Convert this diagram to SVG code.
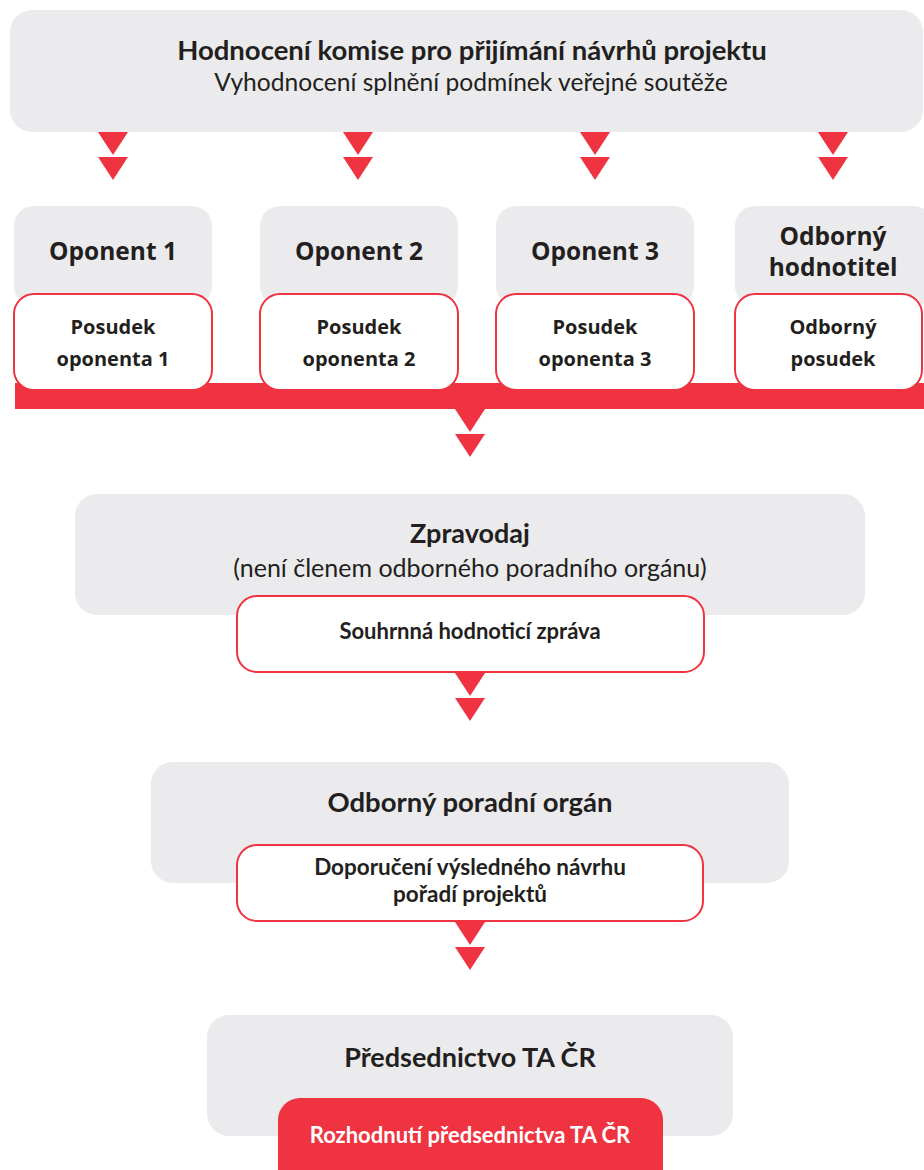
<svg xmlns="http://www.w3.org/2000/svg" width="924" height="1170" viewBox="0 0 924 1170">
<defs>
<style>
.g{fill:#ebebed}
.o{fill:#ffffff;stroke:#ef3340;stroke-width:2}
.r{fill:#ef3340}
.t{font-family:Lato,"Open Sans","Liberation Sans",sans-serif;fill:#231f20;text-anchor:middle}
.b{font-weight:bold}
.op{font-family:"Open Sans","Noto Sans","Liberation Sans",sans-serif;font-weight:bold;fill:#231f20;text-anchor:middle}
.w{fill:#ffffff}
</style>
<path id="tri" d="M-15,0 L15,0 L0,23 Z" fill="#ef3340"/>
<g id="dbl"><use href="#tri"/><use href="#tri" y="25"/></g>
</defs>
<rect width="924" height="1170" fill="#ffffff"/>

<g id="connectors">
<use href="#dbl" x="113" y="132"/>
<use href="#dbl" x="358" y="132"/>
<use href="#dbl" x="595" y="132"/>
<use href="#dbl" x="833" y="132"/>
<rect class="r" x="15" y="383" width="909" height="26"/>
<use href="#dbl" x="470" y="409"/>
<use href="#dbl" x="470" y="673"/>
<use href="#dbl" x="470" y="922"/>
</g>

<g id="komise">
<rect class="g" x="10" y="10" width="913" height="122" rx="22"/>
<text class="t b" x="472" y="60" font-size="27.5">Hodnocení komise pro přijímání návrhů projektu</text>
<text class="t" x="471" y="91" font-size="24.6">Vyhodnocení splnění podmínek veřejné soutěže</text>
</g>

<g id="oponent1">
<rect class="g" x="14" y="206" width="198" height="100" rx="20"/>
<text class="op" x="113" y="260" font-size="24.5">Oponent 1</text>
<rect class="o" x="14" y="294" width="198" height="96" rx="20"/>
<text class="op" x="113" y="334" font-size="20">Posudek</text>
<text class="op" x="113" y="366" font-size="20">oponenta 1</text>
</g>
<g id="oponent2">
<rect class="g" x="260" y="206" width="198" height="100" rx="20"/>
<text class="op" x="359" y="260" font-size="24.5">Oponent 2</text>
<rect class="o" x="260" y="294" width="198" height="96" rx="20"/>
<text class="op" x="359" y="334" font-size="20">Posudek</text>
<text class="op" x="359" y="366" font-size="20">oponenta 2</text>
</g>
<g id="oponent3">
<rect class="g" x="496" y="206" width="198" height="100" rx="20"/>
<text class="op" x="595" y="260" font-size="24.5">Oponent 3</text>
<rect class="o" x="496" y="294" width="198" height="96" rx="20"/>
<text class="op" x="595" y="334" font-size="20">Posudek</text>
<text class="op" x="595" y="366" font-size="20">oponenta 3</text>
</g>
<g id="hodnotitel">
<rect class="g" x="735" y="206" width="198" height="100" rx="20"/>
<text class="op" x="833" y="245" font-size="24.5">Odborný</text>
<text class="op" x="833" y="276" font-size="24.5">hodnotitel</text>
<rect class="o" x="735" y="294" width="187" height="96" rx="20"/>
<text class="op" x="833" y="334" font-size="20">Odborný</text>
<text class="op" x="833" y="366" font-size="20">posudek</text>
</g>

<g id="zpravodaj">
<rect class="g" x="75" y="494" width="790" height="121" rx="22"/>
<text class="t b" x="470" y="543" font-size="27">Zpravodaj</text>
<text class="t" x="470" y="577" font-size="25">(není členem odborného poradního orgánu)</text>
<rect class="o" x="237" y="596" width="467" height="76" rx="20"/>
<text class="t b" x="470" y="639" font-size="22">Souhrnná hodnoticí zpráva</text>
</g>

<g id="organ">
<rect class="g" x="151" y="762" width="638" height="121" rx="22"/>
<text class="t b" x="470" y="812" font-size="27.5">Odborný poradní orgán</text>
<rect class="o" x="237" y="845" width="466" height="76" rx="20"/>
<text class="t b" x="470" y="875" font-size="22.5">Doporučení výsledného návrhu</text>
<text class="t b" x="470" y="902" font-size="22.5">pořadí projektů</text>
</g>

<g id="predsednictvo">
<rect class="g" x="207" y="1015" width="526" height="121" rx="22"/>
<text class="t b" x="470" y="1067" font-size="27">Předsednictvo TA ČR</text>
<rect class="r" x="278" y="1098" width="385" height="100" rx="22"/>
<text class="t b w" x="470" y="1143" font-size="22">Rozhodnutí předsednictva TA ČR</text>
</g>
</svg>
